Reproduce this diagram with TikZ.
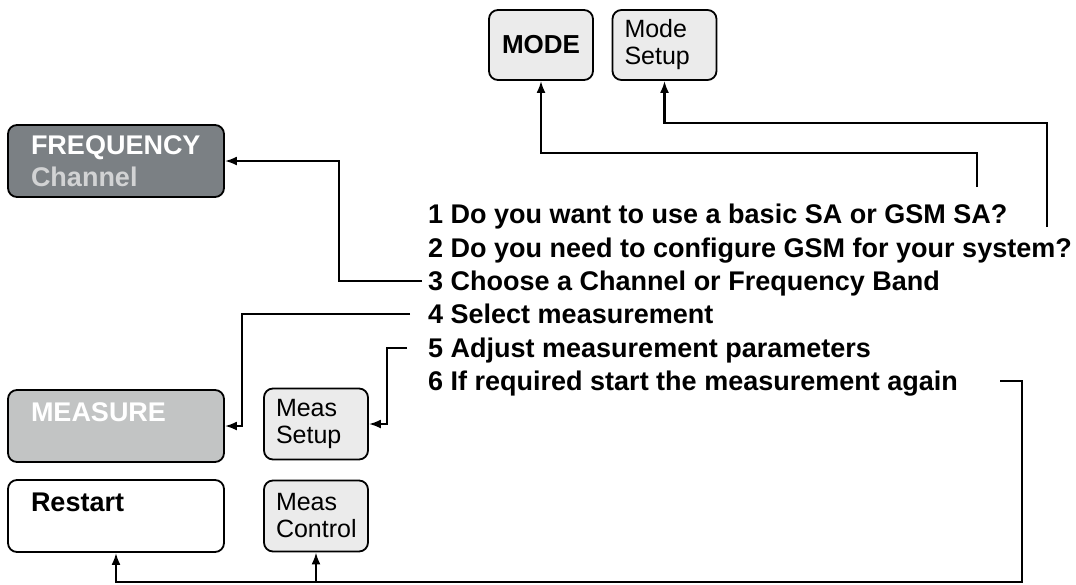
\documentclass[tikz,border=0pt]{standalone}
\usepackage{fontspec}
\usetikzlibrary{arrows.meta}
\setmainfont{Liberation Sans}
\definecolor{freqgray}{HTML}{7B8084}
\definecolor{chantext}{HTML}{D2D3D4}
\definecolor{measgray}{HTML}{C2C4C4}
\definecolor{softgray}{HTML}{EBEBEB}
\begin{document}
\begin{tikzpicture}[x=1pt,y=-1pt,
    key/.style={draw,line width=1.8pt,rounded corners=9pt,inner sep=0pt},
    bigkey/.style={key,align=left,minimum width=216pt,minimum height=72pt,text width=170pt,font=\fontsize{27}{32}\selectfont\bfseries},
    softkey/.style={key,align=left,fill=softgray,minimum width=104pt,minimum height=71pt,text width=80pt,font=\fontsize{25}{27}\selectfont},
    modekey/.style={key,fill=softgray,minimum width=104pt,minimum height=70pt,font=\fontsize{26}{27}\selectfont\bfseries},
    stepline/.style={anchor=west,inner xsep=6pt,inner ysep=0pt,text height=19.5pt,text depth=0pt,font=\fontsize{27}{30}\selectfont\bfseries},
    move/.style={->,>={Latex[length=12pt,width=9pt]},line width=2.2pt,draw}]
    \useasboundingbox (0,0) rectangle (1076,584);

    \node[modekey] (mode) at (541,45) {MODE};
    \node[softkey,minimum height=70pt] (modesetup) at (664.5,45) {Mode\\Setup};
    \node[bigkey,fill=freqgray,text=white] (freq) at (116,161) {FREQUENCY\\\textcolor{chantext}{Channel}};
    \node[bigkey,fill=measgray,text=white,text depth=27pt] (measure) at (116,426) {MEASURE};
    \node[softkey] (meassetup) at (316,424) {Meas\\Setup};
    \node[bigkey,fill=white,text depth=27pt] (restart) at (116,516) {Restart};
    \node[softkey] (meascontrol) at (316,516) {Meas\\Control};

    \node[stepline] (s1) at (422,214) {1 Do you want to use a basic SA or GSM SA?};
    \node[stepline] (s2) at (422,247.4) {2 Do you need to configure GSM for your system?};
    \node[stepline] (s3) at (422,280.8) {3 Choose a Channel or Frequency Band};
    \node[stepline] (s4) at (422,314.2) {4 Select measurement};
    \node[stepline] (s5) at (422,347.6) {5 Adjust measurement parameters};
    \node[stepline] (s6) at (422,381) {6 If required start the measurement again};

    \coordinate (m1) at (977,187);
    \coordinate (m2) at (1047,227);

    \path[move] (m1) -- ++(0,-34) -| (mode.south);
    \path[move] (m2) -- ++(0,-104) -| (modesetup.south);
    \path[move] (s3.west) -- ++(-83,0) |- (freq.east);
    \path[move,shorten <=12pt] (s4.west) -- ++(-180,0) |- (measure.east);
    \path[move,shorten <=15pt] (s5.west) -- ++(-35,0) |- (meassetup.east);
    \path[move,shorten <=36pt] (s6.east) -- ++(58,0) |- ([yshift=-29pt]restart.south) coordinate (bus) -- (restart.south);
    \path[move] (bus -| meascontrol.south) -- (meascontrol.south);

  \end{tikzpicture}
\end{document}
